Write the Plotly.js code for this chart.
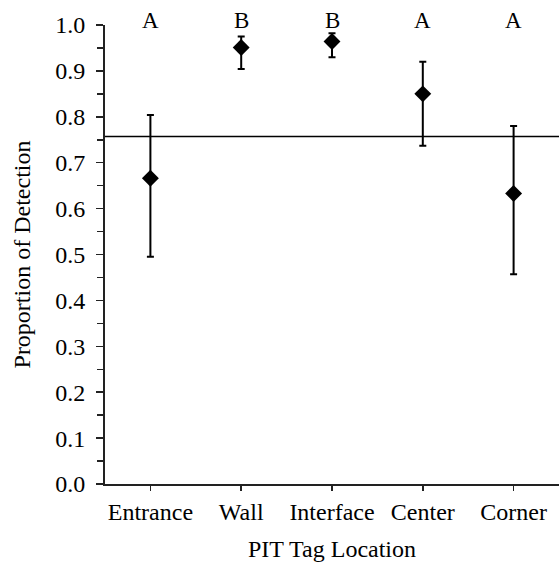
<!DOCTYPE html>
<html>
<head>
<meta charset="utf-8">
<script src="https://cdn.plot.ly/plotly-3.0.1.min.js"></script>
<style>html,body{margin:0;padding:0;background:#fff;}#chart{width:559px;height:565px;}</style>
</head>
<body>
<div id="chart"></div>
<script>
var categories = ["Entrance", "Wall", "Interface", "Center", "Corner"];
var proportion = [0.666, 0.951, 0.964, 0.850, 0.633];
var upperErr = [0.138, 0.024, 0.018, 0.070, 0.147];
var lowerErr = [0.171, 0.047, 0.034, 0.113, 0.176];
var groupLetters = ["A", "B", "B", "A", "A"];
var overallMean = 0.757;

var font = "Liberation Serif, Times New Roman, serif";

var trace = {
  x: categories,
  y: proportion,
  type: "scatter",
  mode: "markers",
  marker: {symbol: "diamond", size: 13, color: "#000"},
  error_y: {type: "data", symmetric: false, array: upperErr, arrayminus: lowerErr,
            color: "#000", thickness: 2, width: 3.5},
  cliponaxis: false,
  showlegend: false
};

var annotations = categories.map(function (c, i) {
  return {x: c, y: 1.0, xref: "x", yref: "y", text: groupLetters[i], showarrow: false,
          yanchor: "bottom", yshift: -10, font: {family: font, size: 23, color: "#000"}};
});

var layout = {
  width: 559, height: 565,
  margin: {l: 105, r: 0, t: 25, b: 81},
  paper_bgcolor: "#fff", plot_bgcolor: "#fff",
  font: {family: font, size: 24, color: "#000"},
  xaxis: {
    type: "category", range: [-0.5, 4.5],
    showline: true, linecolor: "#222", linewidth: 2,
    ticks: "outside", ticklen: 5, tickwidth: 1.5, tickcolor: "#222",
    showgrid: false, zeroline: false,
    tickfont: {family: font, size: 24, color: "#000"},
    title: {text: "PIT Tag Location", font: {family: font, size: 24, color: "#000"}, standoff: 16}
  },
  yaxis: {
    range: [0, 1], dtick: 0.1, tickformat: ".1f",
    showline: true, linecolor: "#222", linewidth: 2,
    ticks: "outside", ticklen: 7, tickwidth: 1.5, tickcolor: "#222",
    ticklabelstandoff: 6,
    minor: {dtick: 0.05, ticks: "outside", ticklen: 6, tickwidth: 1.5, tickcolor: "#222", showgrid: false},
    showgrid: false, zeroline: false,
    tickfont: {family: font, size: 24, color: "#000"},
    title: {text: "Proportion of Detection", font: {family: font, size: 24, color: "#000"}, standoff: 18}
  },
  shapes: [{type: "line", xref: "paper", x0: 0, x1: 1, yref: "y", y0: overallMean, y1: overallMean,
            line: {color: "#000", width: 1.5}}],
  annotations: annotations
};

Plotly.newPlot("chart", [trace], layout, {displayModeBar: false, staticPlot: true});
</script>
</body>
</html>
